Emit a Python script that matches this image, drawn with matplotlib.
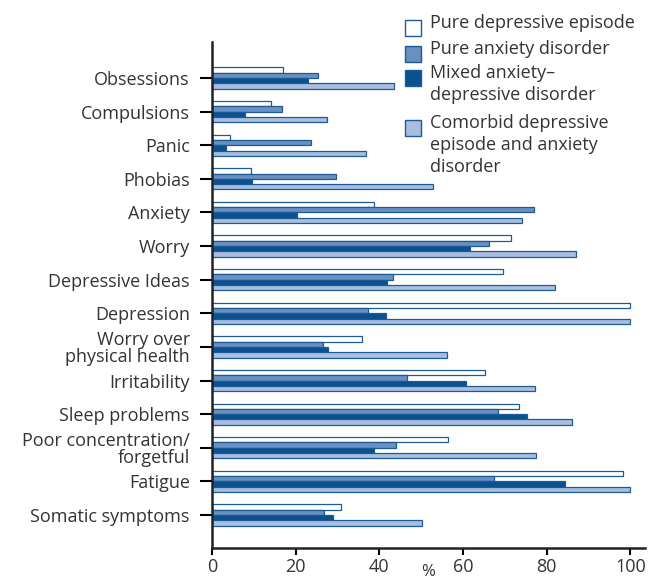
import numpy as np
import matplotlib
matplotlib.use("Agg")
from matplotlib import pyplot as plt
from matplotlib.patches import Rectangle

plt.rcParams['font.family'] = ['Open Sans', 'DejaVu Sans']

# symptom categories, top to bottom
symptoms = ["Obsessions", "Compulsions", "Panic", "Phobias", "Anxiety", "Worry",
            "Depressive Ideas", "Depression", "Worry over\nphysical health",
            "Irritability", "Sleep problems", "Poor concentration/\nforgetful",
            "Fatigue", "Somatic symptoms"]

# % of each group reporting the symptom
pure_depressive = [17, 14, 4.3, 9.3, 38.8, 71.5, 69.5, 100, 35.9, 65.2, 73.4, 56.5, 98.2, 30.9]
pure_anxiety = [25.3, 16.7, 23.6, 29.6, 76.9, 66.3, 43.2, 37.2, 26.5, 46.6, 68.3, 44.1, 67.4, 26.7]
mixed = [23.0, 8.0, 3.3, 9.6, 20.3, 61.6, 41.9, 41.6, 27.7, 60.8, 75.4, 38.8, 84.3, 28.9]
comorbid = [43.6, 27.6, 36.7, 52.8, 74.1, 87.0, 81.9, 99.9, 56.1, 77.3, 86.0, 77.5, 99.8, 50.2]

series_labels = ["Pure depressive episode", "Pure anxiety disorder",
                 "Mixed anxiety\u2013\ndepressive disorder",
                 "Comorbid depressive\nepisode and anxiety\ndisorder"]
colors = ["#ffffff", "#6a8fc1", "#0a5190", "#a9bedf"]
edge = "#1c5b98"
txt = "#333333"

fig = plt.figure(figsize=(6.49, 5.81), dpi=100)
ax = fig.add_axes([212 / 649, (581 - 548) / 581, (645 - 212) / 649, (548 - 42) / 581])

y = np.arange(len(symptoms))
h = 0.158
all_series = [pure_depressive, pure_anxiety, mixed, comorbid]
for i, vals in enumerate(all_series):
    ax.barh(y + (i - 1.5) * h, vals, height=h, color=colors[i],
            edgecolor=edge, linewidth=0.9)

ax.set_ylim(13.98, -1.07)
ax.set_xlim(0, 103.5)
ax.set_yticks(y)
ax.set_yticklabels(symptoms, fontsize=13, color=txt, ha='right',
                   multialignment='right', linespacing=0.95)
ax.set_xticks([0, 20, 40, 60, 80, 100])
ax.tick_params(axis='x', labelsize=13, labelcolor=txt, length=5, width=1.5, pad=2)
ax.tick_params(axis='y', length=9, width=1.5, pad=7)

# axis title sits right at the bottom edge, as in the original
W, H = 649, 581
fig.text(428 / W, 1.5 / H, "%", fontsize=12, color=txt, ha='center', va='bottom')

for s in ["top", "right"]:
    ax.spines[s].set_visible(False)
for s in ["left", "bottom"]:
    ax.spines[s].set_linewidth(1.8)
    ax.spines[s].set_color("#222222")

# legend drawn by hand so the swatches sit on the first line of each label
leg_rows = [28, 54, 78, 128]
for i, lab in enumerate(series_labels):
    yc = leg_rows[i]
    fig.patches.append(Rectangle((405 / W, 1 - (yc + 8) / H), 16 / W, 16 / H,
                                 transform=fig.transFigure, facecolor=colors[i],
                                 edgecolor=edge, linewidth=1.0))
    fig.text(430 / W, 1 - (yc - 14) / H, lab, fontsize=13, color=txt,
             va='top', ha='left', linespacing=1.3)

fig.savefig("out.png", dpi=100)
